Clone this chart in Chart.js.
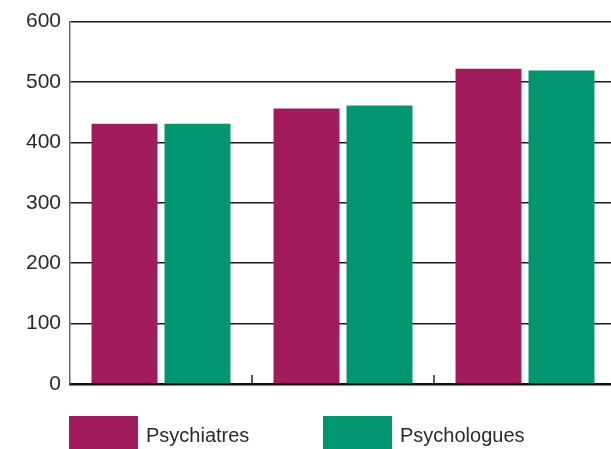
<!DOCTYPE html>
<html>
<head>
<meta charset="utf-8">
<script src="https://cdn.jsdelivr.net/npm/chart.js@4"></script>
<style>
  html, body { margin: 0; padding: 0; background: #fff; overflow: hidden; }
  #wrap { position: relative; width: 616px; height: 449px; }
  .legend { position: absolute; top: 415px; font-family: "Liberation Sans", Arial, sans-serif; font-size: 20px; color: #2a2a2a; }
  .legend span.box { position: absolute; top: 1px; width: 69px; height: 34px; }
  .legend span.txt { position: absolute; top: 9px; white-space: nowrap; }
</style>
</head>
<body>
<div id="wrap">
  <canvas id="chart"></canvas>
  <div class="legend" style="left:69px"><span class="box" style="background:#a21b5b"></span><span class="txt" style="left:77px">Psychiatres</span></div>
  <div class="legend" style="left:323px"><span class="box" style="background:#009670"></span><span class="txt" style="left:77px">Psychologues</span></div>
</div>
<script>
// categories (no labels shown on the original)
const categories = ["1", "2", "3"]
const psychiatres = [431, 456, 522]
const psychologues = [431, 461, 519]
const yTicks = [0, 100, 200, 300, 400, 500, 600]

// petits traits verticaux entre les groupes, tournés vers le haut
const boundaryTicks = {
  id: "boundaryTicks",
  afterDraw(chart) {
    const x = chart.scales.x
    const y = chart.scales.y
    const ctx = chart.ctx
    const base = y.getPixelForValue(0)
    ctx.save()
    ctx.strokeStyle = "#222"
    ctx.lineWidth = 1.5
    for (let i = 0; i < categories.length - 1; i++) {
      const px = (x.getPixelForValue(i) + x.getPixelForValue(i + 1)) / 2
      ctx.beginPath()
      ctx.moveTo(px, base)
      ctx.lineTo(px, base - 9)
      ctx.stroke()
    }
    ctx.restore()
  },
}

new Chart(document.getElementById("chart"), {
  type: "bar",
  data: {
    labels: categories,
    datasets: [
      { label: "Psychiatres", data: psychiatres, backgroundColor: "#a21b5b" },
      { label: "Psychologues", data: psychologues, backgroundColor: "#009670" },
    ],
  },
  options: {
    responsive: true,
    maintainAspectRatio: false,
    animation: false,
    categoryPercentage: 0.802,
    barPercentage: 0.904,
    layout: { padding: { top: 19, bottom: 65, left: 0, right: 0 } },
    plugins: { legend: { display: false }, tooltip: { enabled: false } },
    scales: {
      x: {
        ticks: { display: false },
        grid: { display: false },
        border: { display: true, color: "#111", width: 2.5 },
        afterFit(scale) { scale.height = 0 },
      },
      y: {
        min: 0,
        max: 600,
        afterBuildTicks(scale) { scale.ticks = yTicks.map((v) => ({ value: v })) },
        afterFit(scale) { scale.width = 70 },
        ticks: {
          padding: 9,
          color: "#2a2a2a",
          font: { family: "'Liberation Sans', Arial, sans-serif", size: 21 },
        },
        grid: { color: "#1a1a1a", lineWidth: 1.5, drawTicks: false },
        border: { display: true, color: "#666", width: 1.5 },
      },
    },
  },
  plugins: [boundaryTicks],
})
</script>
</body>
</html>
